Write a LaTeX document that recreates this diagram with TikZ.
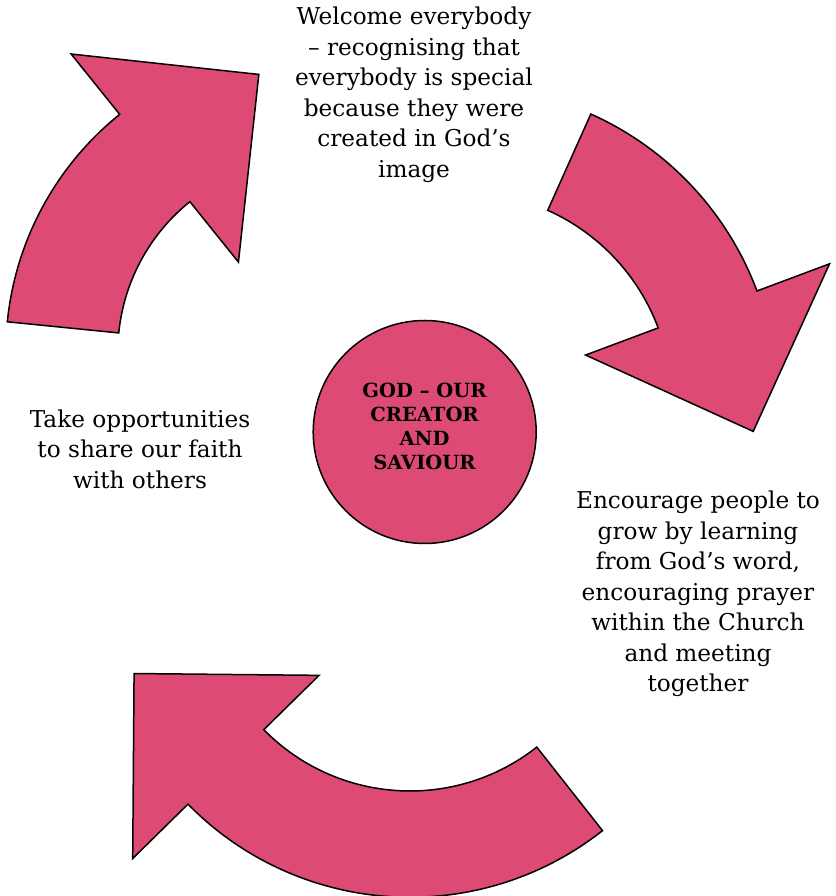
\documentclass[tikz,border=0pt]{standalone}
\usepackage{fontspec}
\setmainfont{DejaVu Serif}
\definecolor{godpink}{RGB}{221,75,116}
\tikzset{
  cyclearrow/.style={fill=godpink, draw=black, line width=1.5pt, line join=miter},
  caption/.style={align=center, font=\fontsize{23.2}{30.5}\selectfont},
  hub/.style={circle, fill=godpink, draw=black, line width=1.5pt, minimum size=223pt},
  hubtext/.style={align=center, font=\bfseries\fontsize{19.5}{24}\selectfont},
}
\begin{document}
\begin{tikzpicture}[x=1pt,y=1pt]
  \useasboundingbox (0,0) rectangle (835,896);

  % upper left arrow
  \begin{scope}[shift={(310.8,543.9)}]
    \filldraw[cyclearrow] (174.3:305) arc[start angle=174.3, end angle=128.8, radius=305]
      -- (128.8:382.5) -- (100.6:282.5) -- (128.8:115.5) -- (128.8:193)
      arc[start angle=128.8, end angle=174.3, radius=193] -- cycle;
  \end{scope}

  % upper right arrow
  \begin{scope}[shift={(462.4,494.9)}]
    \filldraw[cyclearrow] (65.9:314.5) arc[start angle=65.9, end angle=20.5, radius=314.5]
      -- (20.5:392) -- (-5.95:292.4) -- (20.5:131.5) -- (20.5:209)
      arc[start angle=20.5, end angle=65.9, radius=209] -- cycle;
  \end{scope}

  % bottom arrow
  \begin{scope}[shift={(410,310)}]
    \filldraw[cyclearrow] (-51.8:311.3) arc[start angle=-51.8, end angle=-135.5, radius=311.3]
      -- (-135.5:388.8) -- (-162.4:289.5) -- (-135.5:127.5) -- (-135.5:205)
      arc[start angle=-135.5, end angle=-51.8, radius=205] -- cycle;
  \end{scope}

  \node[hub] (god) at (424.7,464) {};
  \node[hubtext] (godtext) at (424.5,469.5) {GOD -- OUR\\CREATOR\\AND\\SAVIOUR};

  \node[caption] (welcome) at (414,801) {Welcome everybody\\-- recognising that\\everybody is special\\because they were\\created in God’s\\image};
  \node[caption] (share) at (140,447) {Take opportunities\\to share our faith\\with others};
  \node[caption] (grow) at (698,302) {Encourage people to\\grow by learning\\from God’s word,\\encouraging prayer\\within the Church\\and meeting\\together};
\end{tikzpicture}
\end{document}
